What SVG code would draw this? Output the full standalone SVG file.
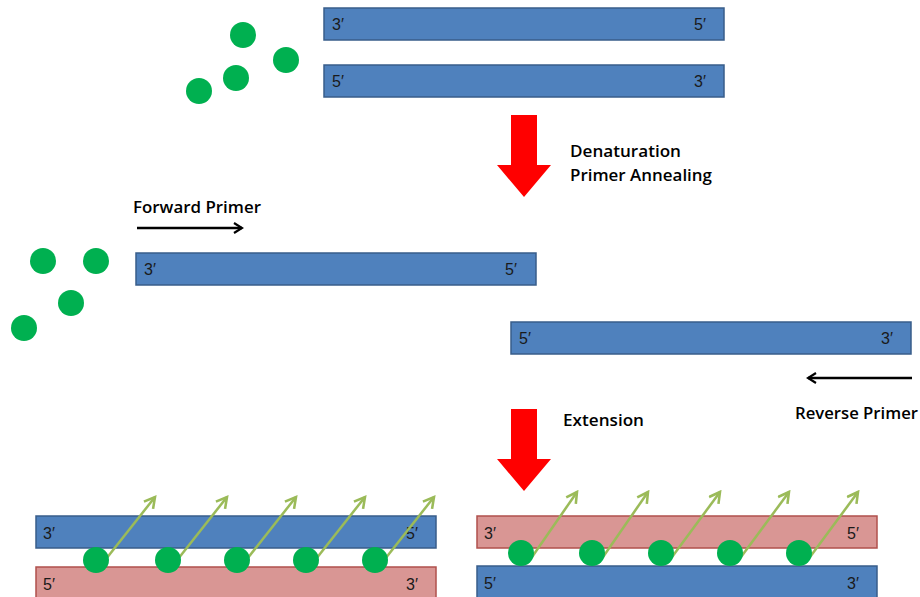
<svg xmlns="http://www.w3.org/2000/svg" width="920" height="597" viewBox="0 0 920 597">
<defs>
<marker id="blk" viewBox="0 0 12 12" refX="10" refY="6" markerWidth="12" markerHeight="12" markerUnits="userSpaceOnUse" orient="auto">
<polyline points="2,1 10,6 2,11" fill="none" stroke="#000" stroke-width="2.2"/>
</marker>
<marker id="grn" viewBox="0 0 12 12" refX="10" refY="6" markerWidth="14" markerHeight="14" markerUnits="userSpaceOnUse" orient="auto">
<polyline points="1,1 10,6 1,11" fill="none" stroke="#9bbb59" stroke-width="2.2"/>
</marker>
</defs>
<style>
.blue{fill:#4f81bd;stroke:#385d8a;stroke-width:1.5}
.pink{fill:#d99694;stroke:#b0504c;stroke-width:1.5}
.dot{fill:#00b050}
.lbl{font-family:"Liberation Sans",Arial,sans-serif;font-size:16px;fill:#1a1a1a}
.cap{font-family:"Open Sans","Liberation Sans",sans-serif;font-size:16.5px;font-weight:600;fill:#000}
.red{fill:#ff0000}
.g{stroke:#9bbb59;stroke-width:2.5;fill:none;marker-end:url(#grn)}
.k{stroke:#000;stroke-width:2.4;fill:none;marker-end:url(#blk)}
</style>
<rect width="920" height="597" fill="#fff"/>

<g id="top-strand-1"><rect class="blue" x="324" y="8" width="400" height="32"/><text class="lbl" x="332" y="30">3′</text><text class="lbl" x="694" y="30">5′</text></g>
<g id="top-strand-2"><rect class="blue" x="324" y="65" width="400" height="32"/><text class="lbl" x="332" y="87">5′</text><text class="lbl" x="694" y="87">3′</text></g>
<g id="dots-top"><circle class="dot" cx="243" cy="35" r="13"/><circle class="dot" cx="286" cy="60" r="13"/><circle class="dot" cx="236" cy="78" r="13"/><circle class="dot" cx="199" cy="91" r="13"/></g>

<g id="arrow-denat"><polygon class="red" points="511,115 537,115 537,165 551,165 524,197 497,165 511,165"/></g>
<g id="label-denat"><text class="cap" x="570" y="157" textLength="111" lengthAdjust="spacingAndGlyphs">Denaturation</text><text class="cap" x="570" y="181" textLength="142" lengthAdjust="spacingAndGlyphs">Primer Annealing</text></g>

<g id="forward-primer"><text class="cap" x="133" y="213" textLength="128" lengthAdjust="spacingAndGlyphs">Forward Primer</text></g>
<g id="strand-mid-left"><rect class="blue" x="136" y="253" width="400" height="32"/><text class="lbl" x="144" y="275">3′</text><text class="lbl" x="505" y="275">5′</text></g>
<g id="dots-mid"><circle class="dot" cx="43" cy="261" r="13"/><circle class="dot" cx="96" cy="261" r="13"/><circle class="dot" cx="71" cy="303" r="13"/><circle class="dot" cx="24" cy="328" r="13"/></g>
<g id="strand-mid-right"><rect class="blue" x="511" y="322" width="400" height="32"/><text class="lbl" x="519" y="344">5′</text><text class="lbl" x="881" y="344">3′</text></g>
<g id="reverse-primer"><text class="cap" x="795" y="419" textLength="123" lengthAdjust="spacingAndGlyphs">Reverse Primer</text></g>

<g id="arrow-ext"><polygon class="red" points="511,409 537,409 537,459 551,459 524,491 497,459 511,459"/></g>
<g id="label-ext"><text class="cap" x="563" y="426" textLength="81" lengthAdjust="spacingAndGlyphs">Extension</text></g>

<g id="bottom-left">
<rect class="blue" x="36" y="516" width="400" height="32"/><text class="lbl" x="43" y="539">3′</text><text class="lbl" x="406" y="539">5′</text>
<rect class="pink" x="36" y="567" width="400" height="32"/><text class="lbl" x="43" y="590">5′</text><text class="lbl" x="406" y="590">3′</text>
</g>
<g id="bottom-right">
<rect class="pink" x="477" y="516" width="400" height="32"/><text class="lbl" x="484" y="539">3′</text><text class="lbl" x="847" y="539">5′</text>
<rect class="blue" x="477" y="566" width="400" height="32"/><text class="lbl" x="484" y="589">5′</text><text class="lbl" x="847" y="589">3′</text>
</g>

<g id="connectors">
<line class="k" x1="137" y1="228" x2="242" y2="228"/>
<line class="k" x1="912" y1="378" x2="808" y2="378"/>
<line class="g" x1="106" y1="559" x2="155" y2="497"/>
<line class="g" x1="178" y1="559" x2="227" y2="497"/>
<line class="g" x1="247" y1="559" x2="296" y2="497"/>
<line class="g" x1="316" y1="559" x2="365" y2="497"/>
<line class="g" x1="385" y1="559" x2="434" y2="497"/>
<line class="g" x1="532" y1="557" x2="577" y2="492"/>
<line class="g" x1="603" y1="557" x2="648" y2="492"/>
<line class="g" x1="672" y1="557" x2="720" y2="492"/>
<line class="g" x1="741" y1="557" x2="789" y2="492"/>
<line class="g" x1="810" y1="557" x2="858" y2="492"/>
</g>
<g id="dots-bottom">
<circle class="dot" cx="96" cy="560" r="13"/><circle class="dot" cx="168" cy="560" r="13"/><circle class="dot" cx="237" cy="560" r="13"/><circle class="dot" cx="306" cy="560" r="13"/><circle class="dot" cx="375" cy="560" r="13"/>
<circle class="dot" cx="521" cy="553" r="13"/><circle class="dot" cx="592" cy="553" r="13"/><circle class="dot" cx="661" cy="553" r="13"/><circle class="dot" cx="730" cy="553" r="13"/><circle class="dot" cx="799" cy="553" r="13"/>
</g>
</svg>
